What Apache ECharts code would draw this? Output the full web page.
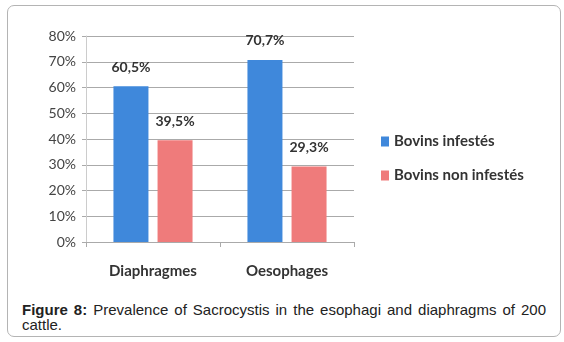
<!DOCTYPE html>
<html>
<head>
<meta charset="utf-8">
<script src="https://cdn.jsdelivr.net/npm/echarts@6/dist/echarts.min.js"></script>
<style>
  html, body { margin: 0; padding: 0; background: #fff; }
  #frame {
    position: absolute; left: 7px; top: 5px; width: 552px; height: 330px;
    border: 1px solid #b4b4b4; border-radius: 7px;
  }
  #chart { position: absolute; left: 0; top: 0; width: 564px; height: 290px; }
  #caption {
    position: absolute; left: 22px; top: 302px; width: 524px;
    font-family: "Liberation Sans", Arial, sans-serif; font-size: 15px; line-height: 15px;
    color: #222; text-align: justify;
  }
</style>
</head>
<body>
<div id="frame"></div>
<div id="chart"></div>
<div id="caption"><b>Figure 8:</b> Prevalence of Sacrocystis in the esophagi and diaphragms of 200 cattle.</div>
<script>
  // organes et pourcentages
  const categories = ['Diaphragmes', 'Oesophages'];
  const infestes = [60.5, 70.7];
  const nonInfestes = [39.5, 29.3];
  const seriesNames = ['Bovins infestés', 'Bovins non infestés'];

  let myChart = echarts.init(document.getElementById('chart'));
  const font = 'Lato, "Open Sans", sans-serif';

  let option = {
    animation: false,
    color: ['#3f88db', '#ef7b7b'],
    grid: { left: 86, right: 210, top: 36, bottom: 48 },
    legend: {
      orient: 'vertical',
      left: 376,
      top: 129,
      itemWidth: 8,
      itemHeight: 10,
      itemGap: 19,
      icon: 'rect',
      textStyle: { fontFamily: font, fontSize: 15, fontWeight: 'bold', color: '#333' },
      data: seriesNames
    },
    xAxis: {
      type: 'category',
      data: categories,
      axisLine: { lineStyle: { color: '#aaa' } },
      axisTick: { show: true, length: 5, lineStyle: { color: '#aaa' } },
      axisLabel: { fontFamily: font, fontSize: 15, fontWeight: 'bold', color: '#333', margin: 22 }
    },
    yAxis: {
      type: 'value',
      min: 0,
      max: 80,
      interval: 10,
      axisLine: { show: true, lineStyle: { color: '#ccc' } },
      axisTick: { show: true, length: 4, lineStyle: { color: '#aaa' } },
      axisLabel: {
        fontFamily: font, fontSize: 14, color: '#444', margin: 10,
        formatter: v => v + '%'
      },
      splitLine: { lineStyle: { color: '#aaa' } }
    },
    series: [
      {
        name: seriesNames[0],
        type: 'bar',
        data: infestes,
        barWidth: 35,
        barGap: '26%',
        label: {
          show: true, position: 'top', distance: 12,
          fontFamily: font, fontSize: 14, fontWeight: 'bold', color: '#333',
          formatter: p => String(p.value).replace('.', ',') + '%'
        }
      },
      {
        name: seriesNames[1],
        type: 'bar',
        data: nonInfestes,
        barWidth: 35,
        label: {
          show: true, position: 'top', distance: 12,
          fontFamily: font, fontSize: 14, fontWeight: 'bold', color: '#333',
          formatter: p => String(p.value).replace('.', ',') + '%'
        }
      }
    ]
  };

  myChart.setOption(option);
</script>
</body>
</html>
